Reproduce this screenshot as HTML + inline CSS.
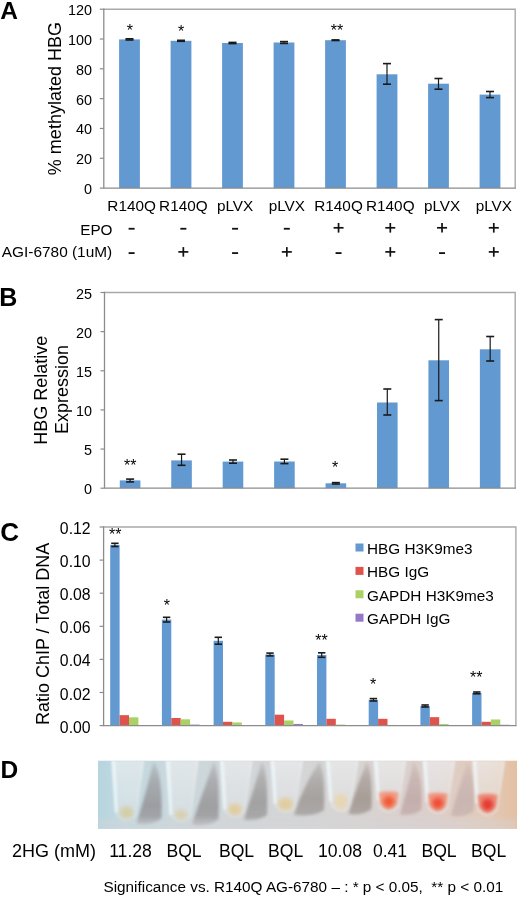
<!DOCTYPE html>
<html><head><meta charset="utf-8"><style>
html,body{margin:0;padding:0;background:#fff;overflow:hidden;}
svg{display:block;font-family:"Liberation Sans", sans-serif;}
text{fill:#000;}
body{will-change:transform;}
</style></head><body>
<svg width="520" height="897" viewBox="0 0 520 897">
<rect width="520" height="897" fill="#fff"/>
<path d="M103.8,9.2 L515.2,9.2 L515.2,188.1" fill="none" stroke="#a9a9a9" stroke-width="1.4"/>
<line x1="99.80" y1="188.10" x2="103.80" y2="188.10" stroke="#8c8c8c" stroke-width="1.2"/>
<text x="92.00" y="194.00" font-size="14.4" text-anchor="end" font-weight="normal" >0</text>
<line x1="99.80" y1="158.28" x2="103.80" y2="158.28" stroke="#8c8c8c" stroke-width="1.2"/>
<text x="92.00" y="164.18" font-size="14.4" text-anchor="end" font-weight="normal" >20</text>
<line x1="99.80" y1="128.47" x2="103.80" y2="128.47" stroke="#8c8c8c" stroke-width="1.2"/>
<text x="92.00" y="134.37" font-size="14.4" text-anchor="end" font-weight="normal" >40</text>
<line x1="99.80" y1="98.65" x2="103.80" y2="98.65" stroke="#8c8c8c" stroke-width="1.2"/>
<text x="92.00" y="104.55" font-size="14.4" text-anchor="end" font-weight="normal" >60</text>
<line x1="99.80" y1="68.83" x2="103.80" y2="68.83" stroke="#8c8c8c" stroke-width="1.2"/>
<text x="92.00" y="74.73" font-size="14.4" text-anchor="end" font-weight="normal" >80</text>
<line x1="99.80" y1="39.02" x2="103.80" y2="39.02" stroke="#8c8c8c" stroke-width="1.2"/>
<text x="92.00" y="44.92" font-size="14.4" text-anchor="end" font-weight="normal" >100</text>
<line x1="99.80" y1="9.20" x2="103.80" y2="9.20" stroke="#8c8c8c" stroke-width="1.2"/>
<text x="92.00" y="15.10" font-size="14.4" text-anchor="end" font-weight="normal" >120</text>
<rect x="119.10" y="39.40" width="20.80" height="148.70" fill="#6399d1"/>
<line x1="129.50" y1="38.80" x2="129.50" y2="40.00" stroke="#1a1a1a" stroke-width="1.2"/>
<line x1="125.50" y1="38.80" x2="133.50" y2="38.80" stroke="#1a1a1a" stroke-width="1.6"/>
<line x1="125.50" y1="40.00" x2="133.50" y2="40.00" stroke="#1a1a1a" stroke-width="1.6"/>
<rect x="170.60" y="40.80" width="20.80" height="147.30" fill="#6399d1"/>
<line x1="181.00" y1="40.30" x2="181.00" y2="41.30" stroke="#1a1a1a" stroke-width="1.2"/>
<line x1="177.00" y1="40.30" x2="185.00" y2="40.30" stroke="#1a1a1a" stroke-width="1.6"/>
<line x1="177.00" y1="41.30" x2="185.00" y2="41.30" stroke="#1a1a1a" stroke-width="1.6"/>
<rect x="222.10" y="43.00" width="20.80" height="145.10" fill="#6399d1"/>
<line x1="232.50" y1="42.40" x2="232.50" y2="43.60" stroke="#1a1a1a" stroke-width="1.2"/>
<line x1="228.50" y1="42.40" x2="236.50" y2="42.40" stroke="#1a1a1a" stroke-width="1.6"/>
<line x1="228.50" y1="43.60" x2="236.50" y2="43.60" stroke="#1a1a1a" stroke-width="1.6"/>
<rect x="273.60" y="42.50" width="20.80" height="145.60" fill="#6399d1"/>
<line x1="284.00" y1="41.60" x2="284.00" y2="43.40" stroke="#1a1a1a" stroke-width="1.2"/>
<line x1="280.00" y1="41.60" x2="288.00" y2="41.60" stroke="#1a1a1a" stroke-width="1.6"/>
<line x1="280.00" y1="43.40" x2="288.00" y2="43.40" stroke="#1a1a1a" stroke-width="1.6"/>
<rect x="325.10" y="40.20" width="20.80" height="147.90" fill="#6399d1"/>
<line x1="335.50" y1="39.90" x2="335.50" y2="40.50" stroke="#1a1a1a" stroke-width="1.2"/>
<line x1="331.50" y1="39.90" x2="339.50" y2="39.90" stroke="#1a1a1a" stroke-width="1.6"/>
<line x1="331.50" y1="40.50" x2="339.50" y2="40.50" stroke="#1a1a1a" stroke-width="1.6"/>
<rect x="376.60" y="74.30" width="20.80" height="113.80" fill="#6399d1"/>
<line x1="387.00" y1="63.60" x2="387.00" y2="84.20" stroke="#1a1a1a" stroke-width="1.2"/>
<line x1="383.00" y1="63.60" x2="391.00" y2="63.60" stroke="#1a1a1a" stroke-width="1.6"/>
<line x1="383.00" y1="84.20" x2="391.00" y2="84.20" stroke="#1a1a1a" stroke-width="1.6"/>
<rect x="428.10" y="83.70" width="20.80" height="104.40" fill="#6399d1"/>
<line x1="438.50" y1="78.50" x2="438.50" y2="89.20" stroke="#1a1a1a" stroke-width="1.2"/>
<line x1="434.50" y1="78.50" x2="442.50" y2="78.50" stroke="#1a1a1a" stroke-width="1.6"/>
<line x1="434.50" y1="89.20" x2="442.50" y2="89.20" stroke="#1a1a1a" stroke-width="1.6"/>
<rect x="479.60" y="94.60" width="20.80" height="93.50" fill="#6399d1"/>
<line x1="490.00" y1="91.50" x2="490.00" y2="97.60" stroke="#1a1a1a" stroke-width="1.2"/>
<line x1="486.00" y1="91.50" x2="494.00" y2="91.50" stroke="#1a1a1a" stroke-width="1.6"/>
<line x1="486.00" y1="97.60" x2="494.00" y2="97.60" stroke="#1a1a1a" stroke-width="1.6"/>
<text x="129.90" y="35.60" font-size="16" text-anchor="middle" font-weight="normal" >*</text>
<text x="181.00" y="36.70" font-size="16" text-anchor="middle" font-weight="normal" >*</text>
<text x="337.00" y="36.30" font-size="16" text-anchor="middle" font-weight="normal" >**</text>
<path d="M103.8,8.5 L103.8,188.1 L515.9000000000001,188.1" fill="none" stroke="#8c8c8c" stroke-width="1.3"/>
<text x="131.60" y="210.60" font-size="15.3" text-anchor="middle" font-weight="normal" >R140Q</text>
<rect x="128.60" y="227.85" width="6" height="1.8" fill="#111"/>
<rect x="128.60" y="252.20" width="6" height="1.8" fill="#111"/>
<text x="183.34" y="210.60" font-size="15.3" text-anchor="middle" font-weight="normal" >R140Q</text>
<rect x="180.34" y="227.85" width="6" height="1.8" fill="#111"/>
<line x1="178.34" y1="251.90" x2="188.34" y2="251.90" stroke="#111" stroke-width="1.7"/>
<line x1="183.34" y1="247.10" x2="183.34" y2="256.70" stroke="#111" stroke-width="1.7"/>
<text x="235.08" y="210.60" font-size="15.3" text-anchor="middle" font-weight="normal" >pLVX</text>
<rect x="232.08" y="227.85" width="6" height="1.8" fill="#111"/>
<rect x="232.08" y="252.20" width="6" height="1.8" fill="#111"/>
<text x="286.82" y="210.60" font-size="15.3" text-anchor="middle" font-weight="normal" >pLVX</text>
<rect x="283.82" y="227.85" width="6" height="1.8" fill="#111"/>
<line x1="281.82" y1="251.90" x2="291.82" y2="251.90" stroke="#111" stroke-width="1.7"/>
<line x1="286.82" y1="247.10" x2="286.82" y2="256.70" stroke="#111" stroke-width="1.7"/>
<text x="338.56" y="210.60" font-size="15.3" text-anchor="middle" font-weight="normal" >R140Q</text>
<line x1="333.56" y1="227.80" x2="343.56" y2="227.80" stroke="#111" stroke-width="1.7"/>
<line x1="338.56" y1="223.00" x2="338.56" y2="232.60" stroke="#111" stroke-width="1.7"/>
<rect x="335.56" y="252.20" width="6" height="1.8" fill="#111"/>
<text x="390.30" y="210.60" font-size="15.3" text-anchor="middle" font-weight="normal" >R140Q</text>
<line x1="385.30" y1="227.80" x2="395.30" y2="227.80" stroke="#111" stroke-width="1.7"/>
<line x1="390.30" y1="223.00" x2="390.30" y2="232.60" stroke="#111" stroke-width="1.7"/>
<line x1="385.30" y1="251.90" x2="395.30" y2="251.90" stroke="#111" stroke-width="1.7"/>
<line x1="390.30" y1="247.10" x2="390.30" y2="256.70" stroke="#111" stroke-width="1.7"/>
<text x="442.04" y="210.60" font-size="15.3" text-anchor="middle" font-weight="normal" >pLVX</text>
<line x1="437.04" y1="227.80" x2="447.04" y2="227.80" stroke="#111" stroke-width="1.7"/>
<line x1="442.04" y1="223.00" x2="442.04" y2="232.60" stroke="#111" stroke-width="1.7"/>
<rect x="439.04" y="252.20" width="6" height="1.8" fill="#111"/>
<text x="493.78" y="210.60" font-size="15.3" text-anchor="middle" font-weight="normal" >pLVX</text>
<line x1="488.78" y1="227.80" x2="498.78" y2="227.80" stroke="#111" stroke-width="1.7"/>
<line x1="493.78" y1="223.00" x2="493.78" y2="232.60" stroke="#111" stroke-width="1.7"/>
<line x1="488.78" y1="251.90" x2="498.78" y2="251.90" stroke="#111" stroke-width="1.7"/>
<line x1="493.78" y1="247.10" x2="493.78" y2="256.70" stroke="#111" stroke-width="1.7"/>
<text x="112.50" y="234.50" font-size="15.3" text-anchor="end" font-weight="normal" >EPO</text>
<text x="112.20" y="257.00" font-size="15.4" text-anchor="end" font-weight="normal" >AGI-6780 (1uM)</text>
<text transform="translate(60.7,98.6) rotate(-90)" font-size="18" text-anchor="middle">% methylated HBG</text>
<text x="0.30" y="19.30" font-size="24.5" text-anchor="start" font-weight="bold" >A</text>
<path d="M104.5,292.5 L515.2,292.5 L515.2,488.2" fill="none" stroke="#a9a9a9" stroke-width="1.4"/>
<line x1="100.50" y1="488.20" x2="104.50" y2="488.20" stroke="#8c8c8c" stroke-width="1.2"/>
<text x="92.00" y="494.30" font-size="14.4" text-anchor="end" font-weight="normal" >0</text>
<line x1="100.50" y1="449.06" x2="104.50" y2="449.06" stroke="#8c8c8c" stroke-width="1.2"/>
<text x="92.00" y="455.16" font-size="14.4" text-anchor="end" font-weight="normal" >5</text>
<line x1="100.50" y1="409.92" x2="104.50" y2="409.92" stroke="#8c8c8c" stroke-width="1.2"/>
<text x="92.00" y="416.02" font-size="14.4" text-anchor="end" font-weight="normal" >10</text>
<line x1="100.50" y1="370.78" x2="104.50" y2="370.78" stroke="#8c8c8c" stroke-width="1.2"/>
<text x="92.00" y="376.88" font-size="14.4" text-anchor="end" font-weight="normal" >15</text>
<line x1="100.50" y1="331.64" x2="104.50" y2="331.64" stroke="#8c8c8c" stroke-width="1.2"/>
<text x="92.00" y="337.74" font-size="14.4" text-anchor="end" font-weight="normal" >20</text>
<line x1="100.50" y1="292.50" x2="104.50" y2="292.50" stroke="#8c8c8c" stroke-width="1.2"/>
<text x="92.00" y="298.60" font-size="14.4" text-anchor="end" font-weight="normal" >25</text>
<rect x="119.80" y="480.40" width="20.60" height="7.80" fill="#6399d1"/>
<line x1="130.10" y1="479.10" x2="130.10" y2="481.90" stroke="#1a1a1a" stroke-width="1.2"/>
<line x1="126.10" y1="479.10" x2="134.10" y2="479.10" stroke="#1a1a1a" stroke-width="1.6"/>
<line x1="126.10" y1="481.90" x2="134.10" y2="481.90" stroke="#1a1a1a" stroke-width="1.6"/>
<rect x="171.24" y="460.40" width="20.60" height="27.80" fill="#6399d1"/>
<line x1="181.54" y1="454.20" x2="181.54" y2="465.30" stroke="#1a1a1a" stroke-width="1.2"/>
<line x1="177.54" y1="454.20" x2="185.54" y2="454.20" stroke="#1a1a1a" stroke-width="1.6"/>
<line x1="177.54" y1="465.30" x2="185.54" y2="465.30" stroke="#1a1a1a" stroke-width="1.6"/>
<rect x="222.68" y="461.60" width="20.60" height="26.60" fill="#6399d1"/>
<line x1="232.98" y1="460.00" x2="232.98" y2="463.20" stroke="#1a1a1a" stroke-width="1.2"/>
<line x1="228.98" y1="460.00" x2="236.98" y2="460.00" stroke="#1a1a1a" stroke-width="1.6"/>
<line x1="228.98" y1="463.20" x2="236.98" y2="463.20" stroke="#1a1a1a" stroke-width="1.6"/>
<rect x="274.12" y="461.50" width="20.60" height="26.70" fill="#6399d1"/>
<line x1="284.42" y1="459.20" x2="284.42" y2="463.60" stroke="#1a1a1a" stroke-width="1.2"/>
<line x1="280.42" y1="459.20" x2="288.42" y2="459.20" stroke="#1a1a1a" stroke-width="1.6"/>
<line x1="280.42" y1="463.60" x2="288.42" y2="463.60" stroke="#1a1a1a" stroke-width="1.6"/>
<rect x="325.56" y="483.30" width="20.60" height="4.90" fill="#6399d1"/>
<line x1="335.86" y1="482.60" x2="335.86" y2="484.00" stroke="#1a1a1a" stroke-width="1.2"/>
<line x1="331.86" y1="482.60" x2="339.86" y2="482.60" stroke="#1a1a1a" stroke-width="1.6"/>
<line x1="331.86" y1="484.00" x2="339.86" y2="484.00" stroke="#1a1a1a" stroke-width="1.6"/>
<rect x="377.00" y="402.50" width="20.60" height="85.70" fill="#6399d1"/>
<line x1="387.30" y1="389.00" x2="387.30" y2="415.00" stroke="#1a1a1a" stroke-width="1.2"/>
<line x1="383.30" y1="389.00" x2="391.30" y2="389.00" stroke="#1a1a1a" stroke-width="1.6"/>
<line x1="383.30" y1="415.00" x2="391.30" y2="415.00" stroke="#1a1a1a" stroke-width="1.6"/>
<rect x="428.44" y="360.30" width="20.60" height="127.90" fill="#6399d1"/>
<line x1="438.74" y1="319.60" x2="438.74" y2="400.60" stroke="#1a1a1a" stroke-width="1.2"/>
<line x1="434.74" y1="319.60" x2="442.74" y2="319.60" stroke="#1a1a1a" stroke-width="1.6"/>
<line x1="434.74" y1="400.60" x2="442.74" y2="400.60" stroke="#1a1a1a" stroke-width="1.6"/>
<rect x="479.88" y="349.30" width="20.60" height="138.90" fill="#6399d1"/>
<line x1="490.18" y1="336.50" x2="490.18" y2="361.00" stroke="#1a1a1a" stroke-width="1.2"/>
<line x1="486.18" y1="336.50" x2="494.18" y2="336.50" stroke="#1a1a1a" stroke-width="1.6"/>
<line x1="486.18" y1="361.00" x2="494.18" y2="361.00" stroke="#1a1a1a" stroke-width="1.6"/>
<path d="M104.5,291.8 L104.5,488.2 L515.9000000000001,488.2" fill="none" stroke="#8c8c8c" stroke-width="1.3"/>
<text x="130.20" y="470.50" font-size="16" text-anchor="middle" font-weight="normal" >**</text>
<text x="335.20" y="473.20" font-size="16" text-anchor="middle" font-weight="normal" >*</text>
<text transform="translate(46.9,390.2) rotate(-90)" font-size="18" text-anchor="middle">HBG Relative</text>
<text transform="translate(67.6,389.5) rotate(-90)" font-size="18" text-anchor="middle">Expression</text>
<text x="-0.80" y="305.60" font-size="25" text-anchor="start" font-weight="bold" >B</text>
<path d="M103.6,527.0 L515.9,527.0 L515.9,725.6" fill="none" stroke="#a9a9a9" stroke-width="1.4"/>
<line x1="99.60" y1="725.60" x2="103.60" y2="725.60" stroke="#8c8c8c" stroke-width="1.2"/>
<text x="90.60" y="732.60" font-size="15.8" text-anchor="end" font-weight="normal" >0.00</text>
<line x1="99.60" y1="692.50" x2="103.60" y2="692.50" stroke="#8c8c8c" stroke-width="1.2"/>
<text x="90.60" y="699.50" font-size="15.8" text-anchor="end" font-weight="normal" >0.02</text>
<line x1="99.60" y1="659.40" x2="103.60" y2="659.40" stroke="#8c8c8c" stroke-width="1.2"/>
<text x="90.60" y="666.40" font-size="15.8" text-anchor="end" font-weight="normal" >0.04</text>
<line x1="99.60" y1="626.30" x2="103.60" y2="626.30" stroke="#8c8c8c" stroke-width="1.2"/>
<text x="90.60" y="633.30" font-size="15.8" text-anchor="end" font-weight="normal" >0.06</text>
<line x1="99.60" y1="593.20" x2="103.60" y2="593.20" stroke="#8c8c8c" stroke-width="1.2"/>
<text x="90.60" y="600.20" font-size="15.8" text-anchor="end" font-weight="normal" >0.08</text>
<line x1="99.60" y1="560.10" x2="103.60" y2="560.10" stroke="#8c8c8c" stroke-width="1.2"/>
<text x="90.60" y="567.10" font-size="15.8" text-anchor="end" font-weight="normal" >0.10</text>
<line x1="99.60" y1="527.00" x2="103.60" y2="527.00" stroke="#8c8c8c" stroke-width="1.2"/>
<text x="90.60" y="534.00" font-size="15.8" text-anchor="end" font-weight="normal" >0.12</text>
<rect x="110.20" y="544.90" width="9.40" height="180.70" fill="#6399d1"/>
<line x1="114.90" y1="543.30" x2="114.90" y2="546.50" stroke="#1a1a1a" stroke-width="1.2"/>
<line x1="111.20" y1="543.30" x2="118.60" y2="543.30" stroke="#1a1a1a" stroke-width="1.6"/>
<line x1="111.20" y1="546.50" x2="118.60" y2="546.50" stroke="#1a1a1a" stroke-width="1.6"/>
<rect x="119.60" y="715.17" width="9.40" height="10.43" fill="#e0524c"/>
<rect x="129.00" y="717.33" width="9.40" height="8.27" fill="#a9d163"/>
<rect x="161.90" y="619.60" width="9.40" height="106.00" fill="#6399d1"/>
<line x1="166.60" y1="617.30" x2="166.60" y2="622.00" stroke="#1a1a1a" stroke-width="1.2"/>
<line x1="162.90" y1="617.30" x2="170.30" y2="617.30" stroke="#1a1a1a" stroke-width="1.6"/>
<line x1="162.90" y1="622.00" x2="170.30" y2="622.00" stroke="#1a1a1a" stroke-width="1.6"/>
<rect x="171.30" y="717.99" width="9.40" height="7.61" fill="#e0524c"/>
<rect x="180.70" y="719.31" width="9.40" height="6.29" fill="#a9d163"/>
<rect x="190.10" y="724.61" width="9.40" height="0.99" fill="#9479c6"/>
<rect x="213.60" y="640.80" width="9.40" height="84.80" fill="#6399d1"/>
<line x1="218.30" y1="637.30" x2="218.30" y2="644.20" stroke="#1a1a1a" stroke-width="1.2"/>
<line x1="214.60" y1="637.30" x2="222.00" y2="637.30" stroke="#1a1a1a" stroke-width="1.6"/>
<line x1="214.60" y1="644.20" x2="222.00" y2="644.20" stroke="#1a1a1a" stroke-width="1.6"/>
<rect x="223.00" y="721.79" width="9.40" height="3.81" fill="#e0524c"/>
<rect x="232.40" y="722.46" width="9.40" height="3.14" fill="#a9d163"/>
<rect x="241.80" y="725.43" width="9.40" height="0.17" fill="#9479c6"/>
<rect x="265.30" y="654.50" width="9.40" height="71.10" fill="#6399d1"/>
<line x1="270.00" y1="653.10" x2="270.00" y2="655.90" stroke="#1a1a1a" stroke-width="1.2"/>
<line x1="266.30" y1="653.10" x2="273.70" y2="653.10" stroke="#1a1a1a" stroke-width="1.6"/>
<line x1="266.30" y1="655.90" x2="273.70" y2="655.90" stroke="#1a1a1a" stroke-width="1.6"/>
<rect x="274.70" y="714.68" width="9.40" height="10.92" fill="#e0524c"/>
<rect x="284.10" y="720.47" width="9.40" height="5.13" fill="#a9d163"/>
<rect x="293.50" y="723.95" width="9.40" height="1.65" fill="#9479c6"/>
<rect x="317.00" y="655.00" width="9.40" height="70.60" fill="#6399d1"/>
<line x1="321.70" y1="652.80" x2="321.70" y2="657.30" stroke="#1a1a1a" stroke-width="1.2"/>
<line x1="318.00" y1="652.80" x2="325.40" y2="652.80" stroke="#1a1a1a" stroke-width="1.6"/>
<line x1="318.00" y1="657.30" x2="325.40" y2="657.30" stroke="#1a1a1a" stroke-width="1.6"/>
<rect x="326.40" y="718.81" width="9.40" height="6.79" fill="#e0524c"/>
<rect x="335.80" y="724.61" width="9.40" height="0.99" fill="#a9d163"/>
<rect x="345.20" y="725.27" width="9.40" height="0.33" fill="#9479c6"/>
<rect x="368.70" y="699.80" width="9.40" height="25.80" fill="#6399d1"/>
<line x1="373.40" y1="698.60" x2="373.40" y2="701.00" stroke="#1a1a1a" stroke-width="1.2"/>
<line x1="369.70" y1="698.60" x2="377.10" y2="698.60" stroke="#1a1a1a" stroke-width="1.6"/>
<line x1="369.70" y1="701.00" x2="377.10" y2="701.00" stroke="#1a1a1a" stroke-width="1.6"/>
<rect x="378.10" y="718.81" width="9.40" height="6.79" fill="#e0524c"/>
<rect x="387.50" y="724.94" width="9.40" height="0.66" fill="#a9d163"/>
<rect x="396.90" y="725.27" width="9.40" height="0.33" fill="#9479c6"/>
<rect x="420.40" y="706.00" width="9.40" height="19.60" fill="#6399d1"/>
<line x1="425.10" y1="705.00" x2="425.10" y2="707.00" stroke="#1a1a1a" stroke-width="1.2"/>
<line x1="421.40" y1="705.00" x2="428.80" y2="705.00" stroke="#1a1a1a" stroke-width="1.6"/>
<line x1="421.40" y1="707.00" x2="428.80" y2="707.00" stroke="#1a1a1a" stroke-width="1.6"/>
<rect x="429.80" y="717.16" width="9.40" height="8.44" fill="#e0524c"/>
<rect x="439.20" y="724.11" width="9.40" height="1.49" fill="#a9d163"/>
<rect x="448.60" y="725.10" width="9.40" height="0.50" fill="#9479c6"/>
<rect x="472.10" y="692.80" width="9.40" height="32.80" fill="#6399d1"/>
<line x1="476.80" y1="692.00" x2="476.80" y2="693.80" stroke="#1a1a1a" stroke-width="1.2"/>
<line x1="473.10" y1="692.00" x2="480.50" y2="692.00" stroke="#1a1a1a" stroke-width="1.6"/>
<line x1="473.10" y1="693.80" x2="480.50" y2="693.80" stroke="#1a1a1a" stroke-width="1.6"/>
<rect x="481.50" y="721.79" width="9.40" height="3.81" fill="#e0524c"/>
<rect x="490.90" y="719.48" width="9.40" height="6.12" fill="#a9d163"/>
<rect x="500.30" y="724.77" width="9.40" height="0.83" fill="#9479c6"/>
<path d="M103.6,526.3 L103.6,725.6 L516.6,725.6" fill="none" stroke="#8c8c8c" stroke-width="1.3"/>
<text x="115.30" y="539.60" font-size="16" text-anchor="middle" font-weight="normal" >**</text>
<text x="166.80" y="610.80" font-size="16" text-anchor="middle" font-weight="normal" >*</text>
<text x="321.50" y="645.90" font-size="16" text-anchor="middle" font-weight="normal" >**</text>
<text x="373.20" y="690.20" font-size="16" text-anchor="middle" font-weight="normal" >*</text>
<text x="476.30" y="682.80" font-size="16" text-anchor="middle" font-weight="normal" >**</text>
<rect x="355.50" y="543.50" width="8.00" height="8.00" fill="#6399d1"/>
<text x="367.00" y="554.00" font-size="15.3" text-anchor="start" font-weight="normal" >HBG H3K9me3</text>
<rect x="355.50" y="566.90" width="8.00" height="8.00" fill="#e0524c"/>
<text x="367.00" y="577.40" font-size="15.3" text-anchor="start" font-weight="normal" >HBG IgG</text>
<rect x="355.50" y="590.30" width="8.00" height="8.00" fill="#a9d163"/>
<text x="367.00" y="600.80" font-size="15.3" text-anchor="start" font-weight="normal" >GAPDH H3K9me3</text>
<rect x="355.50" y="613.70" width="8.00" height="8.00" fill="#9479c6"/>
<text x="367.00" y="624.20" font-size="15.3" text-anchor="start" font-weight="normal" >GAPDH IgG</text>
<text transform="translate(49,633.9) rotate(-90)" font-size="18" text-anchor="middle">Ratio ChIP / Total DNA</text>
<text x="0.20" y="540.60" font-size="26" text-anchor="start" font-weight="bold" >C</text>
<text x="0.50" y="777.80" font-size="24.5" text-anchor="start" font-weight="bold" >D</text>
<defs><clipPath id="pc"><rect x="98" y="760.4" width="419" height="68.5"/></clipPath><linearGradient id="bg" x1="98" x2="517" y1="0" y2="0" gradientUnits="userSpaceOnUse"><stop offset="0" stop-color="#b6d5de"/><stop offset="0.06" stop-color="#c2d9e0"/><stop offset="0.3" stop-color="#d0d6d9"/><stop offset="0.55" stop-color="#d6d5d5"/><stop offset="0.8" stop-color="#dccfcb"/><stop offset="0.93" stop-color="#e2cab8"/><stop offset="1" stop-color="#e4c0a2"/></linearGradient><linearGradient id="sg" x1="0" x2="0" y1="0" y2="1"><stop offset="0" stop-color="#fff" stop-opacity="0.15"/><stop offset="0.5" stop-color="#fff" stop-opacity="0.7"/><stop offset="1" stop-color="#fff" stop-opacity="1"/></linearGradient><mask id="sm" maskContentUnits="objectBoundingBox"><rect width="1" height="1" fill="url(#sg)"/></mask><filter id="b3" x="-50%" y="-50%" width="200%" height="200%"><feGaussianBlur stdDeviation="3"/></filter><filter id="b2" x="-50%" y="-50%" width="200%" height="200%"><feGaussianBlur stdDeviation="2.2"/></filter><filter id="b15" x="-50%" y="-50%" width="200%" height="200%"><feGaussianBlur stdDeviation="1.6"/></filter><filter id="b1" x="-50%" y="-50%" width="200%" height="200%"><feGaussianBlur stdDeviation="1.1"/></filter><filter id="b06" x="-50%" y="-50%" width="200%" height="200%"><feGaussianBlur stdDeviation="0.8"/></filter></defs>
<g clip-path="url(#pc)">
<rect x="98" y="760.4" width="419" height="68.5" fill="url(#bg)"/>
<linearGradient id="tg0" x1="0" x2="0" y1="0" y2="1"><stop offset="0" stop-color="#f0f2f3" stop-opacity="0.6"/><stop offset="1" stop-color="#e6e8ea" stop-opacity="0.35"/></linearGradient>
<path d="M111.5,760.4 L144.5,760.4 L136.5,815.5 Q126.5,826.5 116.5,815.5 Z" fill="url(#tg0)" filter="url(#b1)"/>
<path d="M113.5,760.4 L117.0,815.5 Q126.5,825.5 136.0,815.5 L142.5,760.4" fill="none" stroke="#f6f6f6" stroke-width="1.4" opacity="0.25" filter="url(#b06)"/>
<linearGradient id="sg0" x1="0" x2="0" y1="0" y2="1"><stop offset="0" stop-color="#9a9a9e" stop-opacity="0.3"/><stop offset="0.3" stop-color="#9a9a9e" stop-opacity="0.7"/><stop offset="0.7" stop-color="#9a9a9e" stop-opacity="0.95"/><stop offset="1" stop-color="#9a9a9e" stop-opacity="0.8"/></linearGradient>
<path d="M136.5,823.5 Q145.5,794.5 153.5,761.4 Q163.0,774.4 161.5,818.5 Q153.5,825.5 136.5,823.5 Z" fill="url(#sg0)" filter="url(#b15)"/>
<path d="M111.5,760.4 L115.5,760.4 L118.0,812.5 L114.5,812.5 Z" fill="#eef8fc" opacity="0.7" filter="url(#b1)"/>
<ellipse cx="126.5" cy="812.5" rx="7" ry="6.3" fill="#d6c892" opacity="0.72" filter="url(#b2)"/>
<linearGradient id="tg1" x1="0" x2="0" y1="0" y2="1"><stop offset="0" stop-color="#f0f2f3" stop-opacity="0.6"/><stop offset="1" stop-color="#e6e8ea" stop-opacity="0.35"/></linearGradient>
<path d="M166,760.4 L199,760.4 L191,816.5 Q181,827.5 171,816.5 Z" fill="url(#tg1)" filter="url(#b1)"/>
<path d="M168,760.4 L171.5,816.5 Q181,826.5 190.5,816.5 L197,760.4" fill="none" stroke="#f6f6f6" stroke-width="1.4" opacity="0.25" filter="url(#b06)"/>
<linearGradient id="sg1" x1="0" x2="0" y1="0" y2="1"><stop offset="0" stop-color="#9c9c9e" stop-opacity="0.3"/><stop offset="0.3" stop-color="#9c9c9e" stop-opacity="0.7"/><stop offset="0.7" stop-color="#9c9c9e" stop-opacity="0.95"/><stop offset="1" stop-color="#9c9c9e" stop-opacity="0.8"/></linearGradient>
<path d="M192,824.5 Q201,797 214,761.4 Q220.0,774.4 218.5,819.5 Q210.5,826.5 192,824.5 Z" fill="url(#sg1)" filter="url(#b15)"/>
<path d="M166,760.4 L170,760.4 L172.5,815 L169,815 Z" fill="#eef8fc" opacity="0.7" filter="url(#b1)"/>
<ellipse cx="181" cy="815" rx="6.5" ry="4.95" fill="#dacb9c" opacity="0.72" filter="url(#b2)"/>
<linearGradient id="tg2" x1="0" x2="0" y1="0" y2="1"><stop offset="0" stop-color="#f0f2f3" stop-opacity="0.6"/><stop offset="1" stop-color="#e6e8ea" stop-opacity="0.35"/></linearGradient>
<path d="M220,760.4 L253,760.4 L245,812.0 Q235,823.0 225,812.0 Z" fill="url(#tg2)" filter="url(#b1)"/>
<path d="M222,760.4 L225.5,812.0 Q235,822.0 244.5,812.0 L251,760.4" fill="none" stroke="#f6f6f6" stroke-width="1.4" opacity="0.25" filter="url(#b06)"/>
<linearGradient id="sg2" x1="0" x2="0" y1="0" y2="1"><stop offset="0" stop-color="#a09e9e" stop-opacity="0.3"/><stop offset="0.3" stop-color="#a09e9e" stop-opacity="0.7"/><stop offset="0.7" stop-color="#a09e9e" stop-opacity="0.95"/><stop offset="1" stop-color="#a09e9e" stop-opacity="0.8"/></linearGradient>
<path d="M243.8,820.0 Q252.8,791.5 262,761.4 Q268.5,774.4 267,815.0 Q259,822.0 243.8,820.0 Z" fill="url(#sg2)" filter="url(#b15)"/>
<path d="M220,760.4 L224,760.4 L226.5,809.5 L223,809.5 Z" fill="#eef8fc" opacity="0.7" filter="url(#b1)"/>
<ellipse cx="235" cy="809.5" rx="6.5" ry="5.8500000000000005" fill="#e4c684" opacity="0.72" filter="url(#b2)"/>
<linearGradient id="tg3" x1="0" x2="0" y1="0" y2="1"><stop offset="0" stop-color="#f0f2f3" stop-opacity="0.6"/><stop offset="1" stop-color="#e6e8ea" stop-opacity="0.35"/></linearGradient>
<path d="M270.5,760.4 L303.5,760.4 L295.5,807 Q285.5,818 275.5,807 Z" fill="url(#tg3)" filter="url(#b1)"/>
<path d="M272.5,760.4 L276.0,807 Q285.5,817 295.0,807 L301.5,760.4" fill="none" stroke="#f6f6f6" stroke-width="1.4" opacity="0.25" filter="url(#b06)"/>
<linearGradient id="sg3" x1="0" x2="0" y1="0" y2="1"><stop offset="0" stop-color="#a29e9c" stop-opacity="0.3"/><stop offset="0.3" stop-color="#a29e9c" stop-opacity="0.7"/><stop offset="0.7" stop-color="#a29e9c" stop-opacity="0.95"/><stop offset="1" stop-color="#a29e9c" stop-opacity="0.8"/></linearGradient>
<path d="M294.0,815 Q303.0,786 319.5,761.4 Q325.5,774.4 324.0,810 Q316.0,817 294.0,815 Z" fill="url(#sg3)" filter="url(#b15)"/>
<path d="M270.5,760.4 L274.5,760.4 L277.0,804 L273.5,804 Z" fill="#eef8fc" opacity="0.7" filter="url(#b1)"/>
<ellipse cx="285.5" cy="804" rx="7.5" ry="6.3" fill="#e4c688" opacity="0.72" filter="url(#b2)"/>
<linearGradient id="tg4" x1="0" x2="0" y1="0" y2="1"><stop offset="0" stop-color="#f0f2f3" stop-opacity="0.6"/><stop offset="1" stop-color="#e6e8ea" stop-opacity="0.35"/></linearGradient>
<path d="M326,760.4 L359,760.4 L351,806.0 Q341,817.0 331,806.0 Z" fill="url(#tg4)" filter="url(#b1)"/>
<path d="M328,760.4 L331.5,806.0 Q341,816.0 350.5,806.0 L357,760.4" fill="none" stroke="#f6f6f6" stroke-width="1.4" opacity="0.25" filter="url(#b06)"/>
<linearGradient id="sg4" x1="0" x2="0" y1="0" y2="1"><stop offset="0" stop-color="#a49a94" stop-opacity="0.3"/><stop offset="0.3" stop-color="#a49a94" stop-opacity="0.7"/><stop offset="0.7" stop-color="#a49a94" stop-opacity="0.95"/><stop offset="1" stop-color="#a49a94" stop-opacity="0.8"/></linearGradient>
<path d="M348.5,814.0 Q357.5,783.5 367,761.4 Q373.0,774.4 371.5,809.0 Q363.5,816.0 348.5,814.0 Z" fill="url(#sg4)" filter="url(#b15)"/>
<path d="M326,760.4 L330,760.4 L332.5,801.5 L329,801.5 Z" fill="#eef8fc" opacity="0.7" filter="url(#b1)"/>
<ellipse cx="341" cy="801.5" rx="6.5" ry="7.65" fill="#ecd4a2" opacity="0.72" filter="url(#b2)"/>
<linearGradient id="tg5" x1="0" x2="0" y1="0" y2="1"><stop offset="0" stop-color="#f0f2f3" stop-opacity="0.6"/><stop offset="1" stop-color="#e6e8ea" stop-opacity="0.35"/></linearGradient>
<path d="M373.7,760.4 L406.7,760.4 L398.7,806.5 Q388.7,817.5 378.7,806.5 Z" fill="url(#tg5)" filter="url(#b1)"/>
<path d="M375.7,760.4 L379.2,806.5 Q388.7,816.5 398.2,806.5 L404.7,760.4" fill="none" stroke="#f6f6f6" stroke-width="1.4" opacity="0.25" filter="url(#b06)"/>
<linearGradient id="sg5" x1="0" x2="0" y1="0" y2="1"><stop offset="0" stop-color="#c2acaa" stop-opacity="0.3"/><stop offset="0.3" stop-color="#c2acaa" stop-opacity="0.7"/><stop offset="0.7" stop-color="#c2acaa" stop-opacity="0.95"/><stop offset="1" stop-color="#c2acaa" stop-opacity="0.8"/></linearGradient>
<path d="M400.0,814.5 Q409.0,782.5 413.7,761.4 Q423.0,774.4 421.5,809.5 Q413.5,816.5 400.0,814.5 Z" fill="url(#sg5)" filter="url(#b15)"/>
<path d="M373.7,760.4 L377.7,760.4 L380.2,800.5 L376.7,800.5 Z" fill="#eef8fc" opacity="0.7" filter="url(#b1)"/>
<path d="M378.7,792.5 Q388.7,790.0 398.7,792.5 L397.2,803.5 Q388.7,815.5 380.2,803.5 Z" fill="#f29478" opacity="0.85" filter="url(#b15)"/>
<ellipse cx="388.7" cy="801.5" rx="5.5" ry="5.5" fill="#f25834" filter="url(#b2)"/>
<linearGradient id="tg6" x1="0" x2="0" y1="0" y2="1"><stop offset="0" stop-color="#f0f2f3" stop-opacity="0.6"/><stop offset="1" stop-color="#e6e8ea" stop-opacity="0.35"/></linearGradient>
<path d="M422.7,760.4 L455.7,760.4 L447.7,808 Q437.7,819 427.7,808 Z" fill="url(#tg6)" filter="url(#b1)"/>
<path d="M424.7,760.4 L428.2,808 Q437.7,818 447.2,808 L453.7,760.4" fill="none" stroke="#f6f6f6" stroke-width="1.4" opacity="0.25" filter="url(#b06)"/>
<linearGradient id="sg6" x1="0" x2="0" y1="0" y2="1"><stop offset="0" stop-color="#c8b4b0" stop-opacity="0.3"/><stop offset="0.3" stop-color="#c8b4b0" stop-opacity="0.7"/><stop offset="0.7" stop-color="#c8b4b0" stop-opacity="0.95"/><stop offset="1" stop-color="#c8b4b0" stop-opacity="0.8"/></linearGradient>
<path d="M450.7,816 Q459.7,784 467.7,761.4 Q475.2,774.4 473.7,811 Q465.7,818 450.7,816 Z" fill="url(#sg6)" filter="url(#b15)"/>
<path d="M422.7,760.4 L426.7,760.4 L429.2,802 L425.7,802 Z" fill="#eef8fc" opacity="0.7" filter="url(#b1)"/>
<path d="M427.7,794.0 Q437.7,791.5 447.7,794.0 L446.2,805.0 Q437.7,817.0 429.2,805.0 Z" fill="#f28a70" opacity="0.85" filter="url(#b15)"/>
<ellipse cx="437.7" cy="803" rx="5.5" ry="5.5" fill="#f04c36" filter="url(#b2)"/>
<linearGradient id="tg7" x1="0" x2="0" y1="0" y2="1"><stop offset="0" stop-color="#f0f2f3" stop-opacity="0.6"/><stop offset="1" stop-color="#e6e8ea" stop-opacity="0.35"/></linearGradient>
<path d="M472.5,760.4 L505.5,760.4 L497.5,809.9 Q487.5,820.9 477.5,809.9 Z" fill="url(#tg7)" filter="url(#b1)"/>
<path d="M474.5,760.4 L478.0,809.9 Q487.5,819.9 497.0,809.9 L503.5,760.4" fill="none" stroke="#f6f6f6" stroke-width="1.4" opacity="0.25" filter="url(#b06)"/>
<path d="M472.5,760.4 L476.5,760.4 L479.0,803.4 L475.5,803.4 Z" fill="#eef8fc" opacity="0.7" filter="url(#b1)"/>
<path d="M477.5,795.0 Q487.5,792.375 497.5,795.0 L496.0,806.55 Q487.5,819.15 479.0,806.55 Z" fill="#ee7a66" opacity="0.85" filter="url(#b15)"/>
<ellipse cx="487.5" cy="804.4" rx="5.5" ry="5.775" fill="#e43830" filter="url(#b2)"/>
<rect x="98" y="819" width="419" height="12" fill="#d4d4d8" opacity="0.4" filter="url(#b2)"/>
</g>
<text x="12.00" y="857.00" font-size="18" text-anchor="start" font-weight="normal" >2HG (mM)</text>
<text x="130.50" y="857.00" font-size="17.6" text-anchor="middle" font-weight="normal" >11.28</text>
<text x="184.00" y="857.00" font-size="17.6" text-anchor="middle" font-weight="normal" >BQL</text>
<text x="236.50" y="857.00" font-size="17.6" text-anchor="middle" font-weight="normal" >BQL</text>
<text x="285.70" y="857.00" font-size="17.6" text-anchor="middle" font-weight="normal" >BQL</text>
<text x="340.00" y="857.00" font-size="17.6" text-anchor="middle" font-weight="normal" >10.08</text>
<text x="390.00" y="857.00" font-size="17.6" text-anchor="middle" font-weight="normal" >0.41</text>
<text x="439.00" y="857.00" font-size="17.6" text-anchor="middle" font-weight="normal" >BQL</text>
<text x="488.60" y="857.00" font-size="17.6" text-anchor="middle" font-weight="normal" >BQL</text>
<text x="103.50" y="891.70" font-size="15.3" text-anchor="start" font-weight="normal" >Significance vs. R140Q AG-6780 – : * p &lt; 0.05,&#160; ** p &lt; 0.01</text>
</svg></body></html>
